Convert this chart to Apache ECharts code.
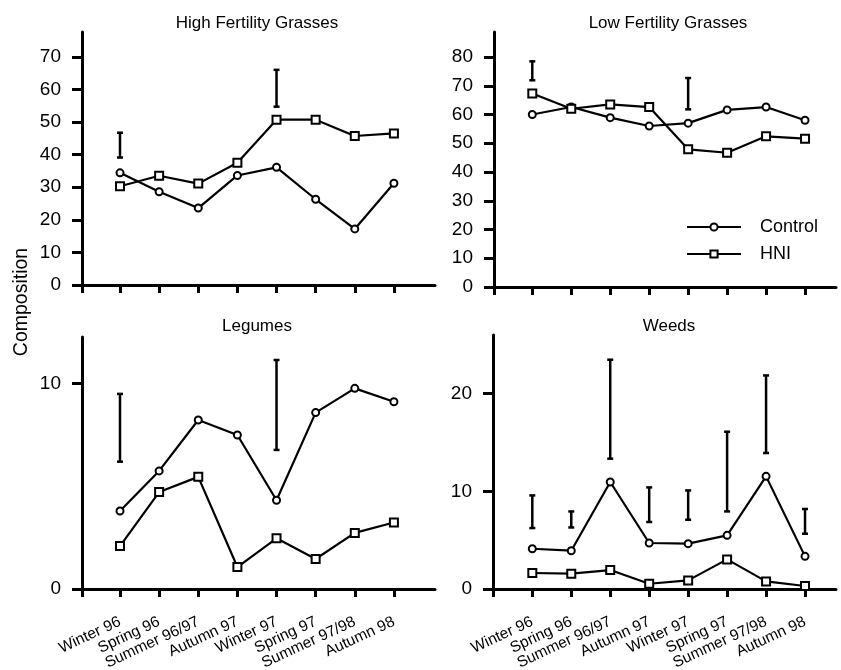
<!DOCTYPE html>
<html><head><meta charset="utf-8">
<script src="https://cdn.jsdelivr.net/npm/echarts@6/dist/echarts.min.js"></script>
<style>html,body{margin:0;padding:0;background:#fff}#c{width:841px;height:670px}</style>
</head><body><div id="c"></div>
<script>
const categories = ['Winter 96','Spring 96','Summer 96/97','Autumn 97','Winter 97','Spring 97','Summer 97/98','Autumn 98'];
const panelTitles = ['High Fertility Grasses','Low Fertility Grasses','Legumes','Weeds'];
const seriesNames = ['Control','HNI'];
const yAxisName = 'Composition';

const hfgControl = [34.4, 28.6, 23.6, 33.6, 36.1, 26.3, 17.2, 31.2];
const hfgHNI     = [30.3, 33.5, 31.1, 37.5, 50.7, 50.7, 45.7, 46.5];
const hfgErrX    = [0, 4];
const hfgErrLow  = [39.1, 54.7];
const hfgErrHigh = [46.7, 66.0];
const hfgTicks   = [0, 10, 20, 30, 40, 50, 60, 70];

const lfgControl = [60.0, 62.6, 58.9, 56.0, 57.0, 61.6, 62.6, 58.0];
const lfgHNI     = [67.3, 62.0, 63.5, 62.6, 47.9, 46.7, 52.4, 51.6];
const lfgErrX    = [0, 4];
const lfgErrLow  = [71.9, 61.8];
const lfgErrHigh = [78.5, 72.7];
const lfgTicks   = [0, 10, 20, 30, 40, 50, 60, 70, 80];

const legControl = [3.80, 5.75, 8.23, 7.50, 4.32, 8.59, 9.77, 9.12];
const legHNI     = [2.09, 4.72, 5.46, 1.07, 2.47, 1.46, 2.73, 3.24];
const legErrX    = [0, 4];
const legErrLow  = [6.20, 6.77];
const legErrHigh = [9.50, 11.15];
const legTicks   = [0, 10];

const weedControl = [4.12, 3.92, 10.95, 4.71, 4.64, 5.49, 11.53, 3.34];
const weedHNI     = [1.64, 1.57, 1.94, 0.54, 0.88, 3.03, 0.78, 0.31];
const weedErrX    = [0, 1, 2, 3, 4, 5, 6, 7];
const weedErrLow  = [6.24, 6.30, 13.34, 6.86, 7.09, 7.94, 13.92, 5.66];
const weedErrHigh = [9.58, 7.94, 23.47, 10.40, 10.09, 16.10, 21.86, 8.19];
const weedTicks   = [0, 10, 20];

const FONT = '"Liberation Sans", Arial, sans-serif';
const panels = [
  {title: panelTitles[0], ctrl: hfgControl, hni: hfgHNI, ex: hfgErrX, elo: hfgErrLow, ehi: hfgErrHigh, ticks: hfgTicks,
   grid: {left: 82, top: 32, width: 353, height: 253}, xMin: -0.971, xMax: 8.05, yMax: 77.6, titleX: 257, titleY: 15, xLabels: false},
  {title: panelTitles[1], ctrl: lfgControl, hni: lfgHNI, ex: lfgErrX, elo: lfgErrLow, ehi: lfgErrHigh, ticks: lfgTicks,
   grid: {left: 494, top: 32, width: 342, height: 255}, xMin: -0.983, xMax: 7.795, yMax: 88.7, titleX: 668, titleY: 15, xLabels: false},
  {title: panelTitles[2], ctrl: legControl, hni: legHNI, ex: legErrX, elo: legErrLow, ehi: legErrHigh, ticks: legTicks,
   grid: {left: 82, top: 337, width: 353, height: 252}, xMin: -0.971, xMax: 8.05, yMax: 12.27, titleX: 257, titleY: 318, xLabels: true},
  {title: panelTitles[3], ctrl: weedControl, hni: weedHNI, ex: weedErrX, elo: weedErrLow, ehi: weedErrHigh, ticks: weedTicks,
   grid: {left: 493, top: 335, width: 343, height: 254}, xMin: -1.009, xMax: 7.795, yMax: 26.0, titleX: 669, titleY: 318, xLabels: true}
];

function errRender(params, api) {
  const x = api.value(0), lo = api.value(1), hi = api.value(2);
  const a = api.coord([x, lo]), b = api.coord([x, hi]);
  const w = 3;
  const st = {stroke: '#000', lineWidth: 2.5};
  return {type: 'group', children: [
    {type: 'line', shape: {x1: a[0], y1: a[1], x2: b[0], y2: b[1]}, style: st},
    {type: 'line', shape: {x1: a[0] - w, y1: a[1], x2: a[0] + w, y2: a[1]}, style: st},
    {type: 'line', shape: {x1: b[0] - w, y1: b[1], x2: b[0] + w, y2: b[1]}, style: st}
  ]};
}

const catIdx = categories.map((c, i) => i);
const option = {
  backgroundColor: '#fff',
  animation: false,
  textStyle: {fontFamily: FONT, color: '#000'},
  title: panels.map(p => ({text: p.title, left: p.titleX, top: p.titleY, textAlign: 'center', padding: 0,
    textStyle: {fontFamily: FONT, fontSize: 17, fontWeight: 'normal', color: '#000'}})),
  grid: panels.map(p => Object.assign({outerBoundsMode: 'none', containLabel: false}, p.grid)),
  legend: {
    data: seriesNames, orient: 'vertical', left: 681, top: 213, itemWidth: 54, itemHeight: 9, itemGap: 9,
    textStyle: {fontFamily: FONT, fontSize: 18, color: '#000', padding: [0, 0, 0, 14]},
    inactiveColor: '#000'
  },
  graphic: [{type: 'text', x: 22, y: 302, rotation: Math.PI / 2,
    style: {text: yAxisName, font: '19.5px ' + FONT, fill: '#000', align: 'center', verticalAlign: 'middle'}}],
  xAxis: panels.map((p, i) => ({
    type: 'value', gridIndex: i, min: p.xMin, max: p.xMax,
    splitLine: {show: false},
    axisLine: {show: true, onZero: false, lineStyle: {color: '#000', width: 3}},
    axisTick: {show: true, length: 8, lineStyle: {color: '#000', width: 3}, customValues: [p.xMin].concat(catIdx)},
    axisLabel: {show: p.xLabels, customValues: catIdx, rotate: 25, margin: 32, fontSize: 15.5, fontFamily: FONT, color: '#000',
      formatter: v => categories[Math.round(v)] || ''}
  })),
  yAxis: panels.map((p, i) => ({
    type: 'value', gridIndex: i, min: 0, max: p.yMax,
    splitLine: {show: false},
    axisLine: {show: true, onZero: false, lineStyle: {color: '#000', width: 3}},
    axisTick: {show: true, length: 10, lineStyle: {color: '#000', width: 3}, customValues: p.ticks},
    axisLabel: {show: true, customValues: p.ticks, margin: 21, fontSize: 19, fontFamily: FONT, color: '#000'}
  })),
  series: []
};

panels.forEach((p, i) => {
  option.series.push({
    name: seriesNames[0], type: 'line', xAxisIndex: i, yAxisIndex: i,
    data: p.ctrl.map((v, k) => [k, v]),
    symbol: 'emptyCircle', symbolSize: 7,
    itemStyle: {color: '#000', borderColor: '#000', borderWidth: 2},
    lineStyle: {color: '#000', width: 2.2}, z: 3
  });
  option.series.push({
    name: seriesNames[1], type: 'line', xAxisIndex: i, yAxisIndex: i,
    data: p.hni.map((v, k) => [k, v]),
    symbol: 'emptyRect', symbolSize: 8,
    itemStyle: {color: '#000', borderColor: '#000', borderWidth: 2.5},
    lineStyle: {color: '#000', width: 2.2}, z: 3
  });
  option.series.push({
    type: 'custom', xAxisIndex: i, yAxisIndex: i, renderItem: errRender,
    data: p.ex.map((x, k) => [x, p.elo[k], p.ehi[k]]), silent: true, z: 2
  });
});

const chart = echarts.init(document.getElementById('c'));
chart.setOption(option);
</script>
</body></html>
